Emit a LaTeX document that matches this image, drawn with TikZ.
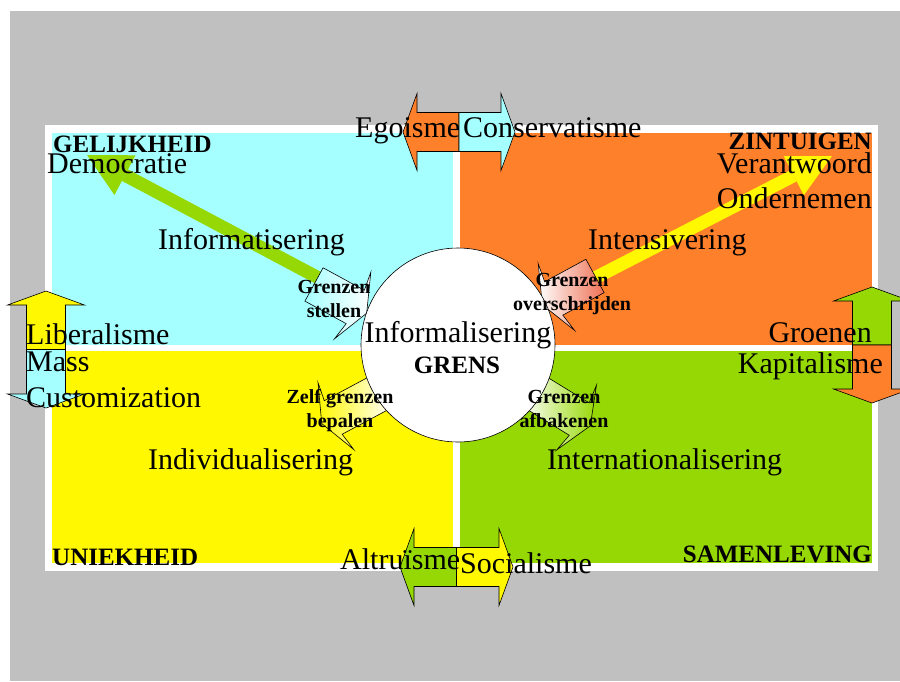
\documentclass[tikz,border=0pt]{standalone}
\usepackage{fontspec}
\setmainfont{Liberation Serif}
\usetikzlibrary{arrows.meta}

\definecolor{grijs}{RGB}{192,192,192}
\definecolor{cyaan}{RGB}{166,255,255}
\definecolor{oranje}{RGB}{255,128,42}
\definecolor{geel}{RGB}{255,248,0}
\definecolor{groen}{RGB}{150,216,4}
\definecolor{zalm}{RGB}{238,112,84}

\tikzset{
  tekst/.style={font=\fontsize{30}{34}\selectfont, inner sep=0pt},
  kop/.style={font=\bfseries\fontsize{25}{28}\selectfont, inner sep=0pt},
  grenstekst/.style={font=\bfseries\fontsize{20}{23.5}\selectfont, align=center, inner sep=0pt},
}

\begin{document}
\begin{tikzpicture}[x=1pt, y=-1pt]
    \useasboundingbox (0,0) rectangle (900,681);
    \clip (0,0) rectangle (900,681);
    \fill[grijs] (10,11) rectangle (900,681);
    \fill[white] (45,125) rectangle (878,571);
    \fill[cyaan] (52,133) rectangle (453,345);
    \fill[oranje] (460,133) rectangle (872,345);
    \fill[geel] (52,351) rectangle (453,563);
    \fill[groen] (460,351) rectangle (872,563);

    % diagonale pijlen
    \coordinate (stellenvoet) at (330,284);
    \coordinate (democratiepunt) at (87,155);
    \coordinate (overschrijdenvoet) at (585,283);
    \coordinate (ondernemenpunt) at (832,156);
    \draw[groen, line width=13pt, -{Triangle[length=43pt, width=45pt, line width=0pt]}] (stellenvoet) -- (democratiepunt);
    \draw[geel, line width=13pt, -{Triangle[length=43pt, width=44pt, line width=0pt]}] (overschrijdenvoet) -- (ondernemenpunt);

    % grens-pijlen rond de cirkel
    \foreach \mx/\my/\hoek/\lengte/\kleura/\kleurb in {353.5/306/-28.6/45/cyaan/white, 555.5/297.5/-151.4/45/white/zalm, 335/416.5/-151.9/55/geel/white, 577.5/418/-31.5/55/white/groen}{
      \begin{scope}[shift={(\mx,\my)}, rotate=\hoek]
        \shade[draw=black, line width=0.6pt, left color=\kleura, right color=\kleurb]
          (-\lengte,-19) -- (2,-19) -- (-1,-38) -- (15,0) -- (-1,38) -- (2,19) -- (-\lengte,19) -- cycle;
      \end{scope}}

    \node[draw, circle, fill=white, line width=0.6pt, minimum size=194pt, inner sep=0pt] (grens) at (458,345) {};

    % dubbele pijlen
    \foreach \mx/\my/\hoek/\half/\kleura/\kleurb in {459/132/0/56/oranje/cyaan, 456.5/567/0/56.5/groen/geel, 46/349.5/-90/58.5/geel/cyaan, 872/345/-90/58/groen/oranje}{
      \begin{scope}[shift={(\mx,\my)}, rotate=\hoek]
        \filldraw[fill=\kleura, line width=0.6pt] (0,-19.5) -- (-\half+14,-19.5) -- (-\half+14,-38.5) -- (-\half,0)
          -- (-\half+14,38.5) -- (-\half+14,19.5) -- (0,19.5) -- cycle;
        \filldraw[fill=\kleurb, line width=0.6pt] (0,-19.5) -- (\half-14,-19.5) -- (\half-14,-38.5) -- (\half,0)
          -- (\half-14,38.5) -- (\half-14,19.5) -- (0,19.5) -- cycle;
      \end{scope}}

    % teksten
    \node[kop, anchor=base west] (gelijkheid) at (53,152) {GELIJKHEID};
    \node[tekst, anchor=base west] (democratie) at (47,173) {Democratie};
    \node[tekst, anchor=base west] (informatisering) at (158,249) {Informatisering};
    \node[kop, anchor=base east] (zintuigen) at (872,149) {ZINTUIGEN};
    \node[tekst, anchor=base east] (verantwoord) at (872,173) {Verantwoord};
    \node[tekst, anchor=base east] (ondernemen) at (872,208) {Ondernemen};
    \node[tekst, anchor=base west] (intensivering) at (588,249) {Intensivering};
    \node[tekst, anchor=base] (informalisering) at (458,342) {Informalisering};
    \node[kop, anchor=base] (grenskop) at (457,373) {GRENS};
    \node[tekst, anchor=base west] (individualisering) at (148,469) {Individualisering};
    \node[tekst, anchor=base west] (internationalisering) at (547,469) {Internationalisering};
    \node[kop, anchor=base west] (uniekheid) at (52,565) {UNIEKHEID};
    \node[kop, anchor=base east] (samenleving) at (872,562) {SAMENLEVING};
    \node[tekst, anchor=base west] (liberalisme) at (26,344) {Liberalisme};
    \node[tekst, anchor=base west] (mass) at (26,371) {Mass};
    \node[tekst, anchor=base west] (customization) at (26,407) {Customization};
    \node[tekst, anchor=base east] (groenen) at (872,342) {Groenen};
    \node[tekst, anchor=base east] (kapitalisme) at (883,373) {Kapitalisme};
    \node[tekst, anchor=base west] (egoisme) at (355,137) {Egoisme};
    \node[tekst, anchor=base west] (conservatisme) at (463,137) {Conservatisme};
    \node[tekst, anchor=base west] (altruisme) at (340,569) {Altruïsme};
    \node[tekst, anchor=base west] (socialisme) at (460,573) {Socialisme};
    \node[grenstekst, anchor=base] (stellen) at (334,317) {Grenzen\\stellen};
    \node[grenstekst, anchor=base] (overschrijden) at (572,310) {Grenzen\\overschrijden};
    \node[grenstekst, anchor=base] (bepalen) at (340,427) {Zelf grenzen\\bepalen};
    \node[grenstekst, anchor=base] (afbakenen) at (564,427) {Grenzen\\afbakenen};
  \end{tikzpicture}
\end{document}
